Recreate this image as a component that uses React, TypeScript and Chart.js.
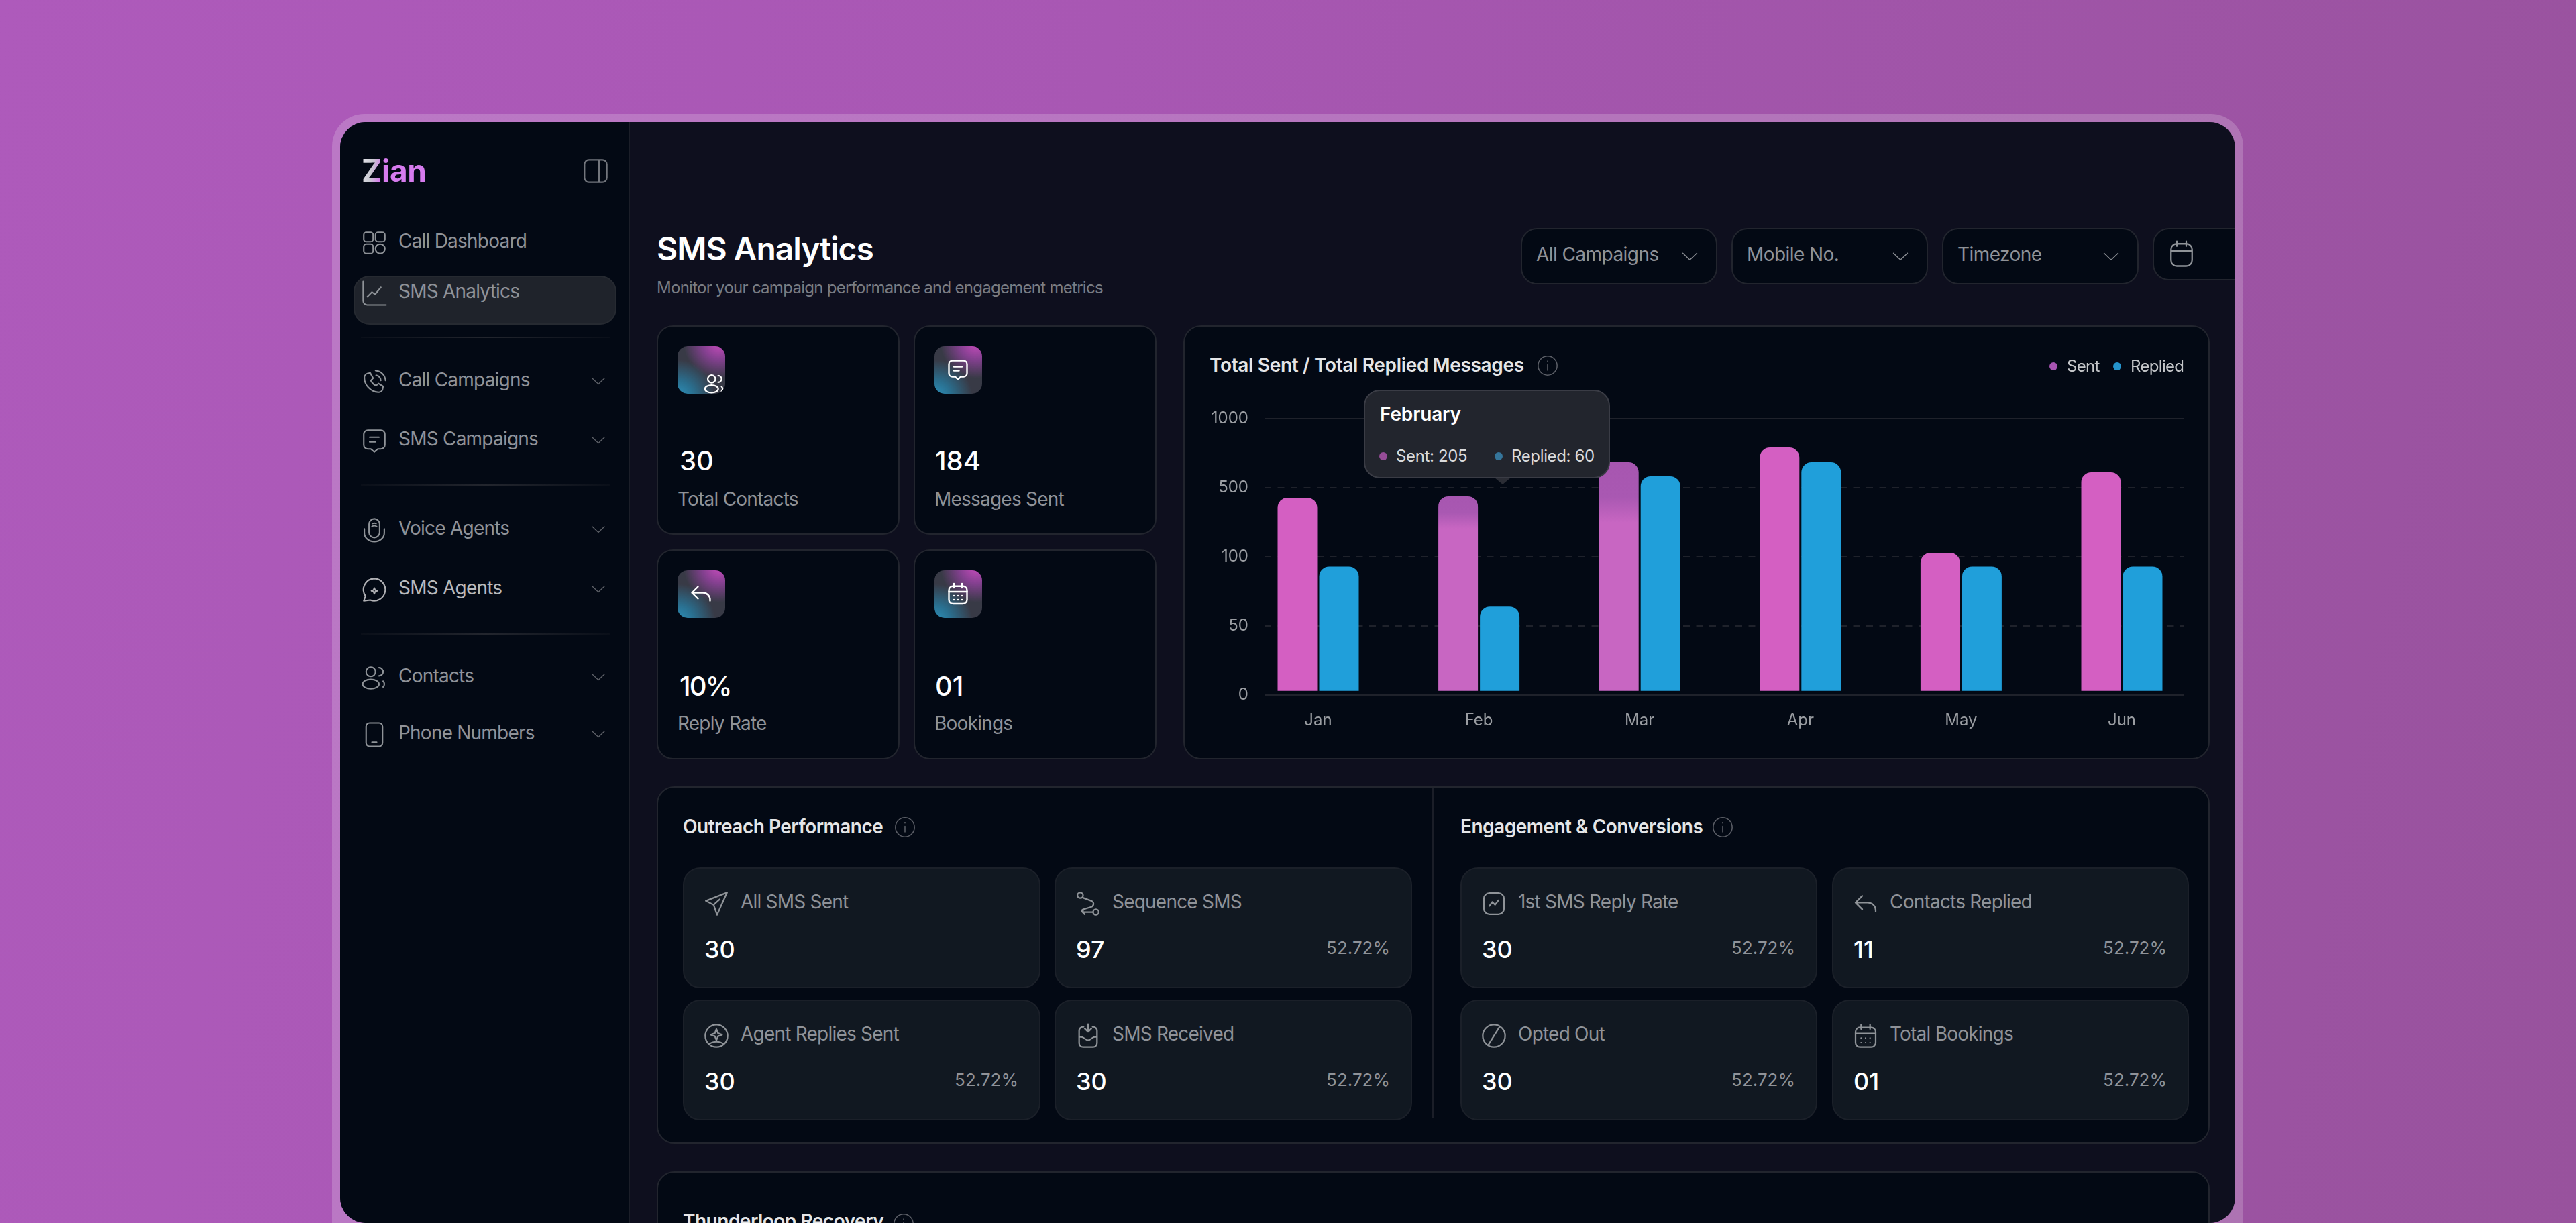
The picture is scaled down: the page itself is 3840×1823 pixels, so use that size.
import React, { useEffect, useRef } from "react";
import { Chart, LinearScale, registerables } from "chart.js";

// ---------- chart data ----------
const months = ["Jan", "Feb", "Mar", "Apr", "May", "Jun"];
const sentValues = [442, 450, 684, 791, 123, 612];
const repliedValues = [93, 64, 583, 684, 93, 93];
const yTickValues = [0, 50, 100, 500, 1000];
const seriesNames = ["Sent", "Replied"];
const tooltipTitle = "February";
const tooltipLines = ["Sent: 205", "Replied: 60"];

// ---------- page text ----------
const appName = "Zian";
const pageTitle = "SMS Analytics";
const pageSubtitle = "Monitor your campaign performance and engagement metrics";
const filterLabels = ["All Campaigns", "Mobile No.", "Timezone"];
const chartTitle = "Total Sent / Total Replied Messages";
const statValues = ["30", "184", "10%", "01"];
const statLabels = ["Total Contacts", "Messages Sent", "Reply Rate", "Bookings"];
const outreachTitle = "Outreach Performance";
const outreachLabels = ["All SMS Sent", "Sequence SMS", "Agent Replies Sent", "SMS Received"];
const outreachValues = ["30", "97", "30", "30"];
const outreachPercents = ["", "52.72%", "52.72%", "52.72%"];
const engagementTitle = "Engagement & Conversions";
const engagementLabels = ["1st SMS Reply Rate", "Contacts Replied", "Opted Out", "Total Bookings"];
const engagementValues = ["30", "11", "30", "01"];
const engagementPercents = ["52.72%", "52.72%", "52.72%", "52.72%"];
const recoveryTitle = "Thunderloop Recovery";

const FONT = "Inter, 'Noto Sans', sans-serif";

// Axis whose labelled ticks are evenly spaced although their values are not.
class SteppedScale extends LinearScale {
  static id = "stepped";
  static defaults = LinearScale.defaults;
  buildTicks() {
    this.min = yTickValues[0];
    this.max = yTickValues[yTickValues.length - 1];
    return yTickValues.map((value) => ({ value }));
  }
  getPixelForValue(v: number) {
    const n = yTickValues.length - 1;
    let i = 0;
    while (i < n - 1 && v > yTickValues[i + 1]) i++;
    const f = (v - yTickValues[i]) / (yTickValues[i + 1] - yTickValues[i]);
    return this.getPixelForDecimal((i + f) / n);
  }
  getValueForPixel(p: number) {
    const n = yTickValues.length - 1;
    const d = this.getDecimalForPixel(p) * n;
    const i = Math.min(n - 1, Math.max(0, Math.floor(d)));
    return yTickValues[i] + (d - i) * (yTickValues[i + 1] - yTickValues[i]);
  }
}

Chart.register(...registerables, SteppedScale);

function T({ x, y, s, w = 400, c, right, children, ls, extra }: any) {
  const st: any = {
    position: "absolute",
    top: y - 1,
    transform: "translateY(-50%)",
    fontFamily: FONT,
    fontSize: s,
    fontWeight: w,
    color: c,
    lineHeight: 1,
    whiteSpace: "nowrap",
    letterSpacing: ls ?? (w >= 600 ? "-0.018em" : "-0.028em"),
    ...extra,
  };
  if (right) st.right = 3840 - x;
  else st.left = x;
  return <div style={st}>{children}</div>;
}

function Box({ x, y, w, h, r, bg, bd, extra, children }: any) {
  return (
    <div
      style={{
        position: "absolute",
        left: x,
        top: y,
        width: w,
        height: h,
        boxSizing: "border-box",
        borderRadius: r,
        background: bg,
        border: bd ? `2px solid ${bd}` : undefined,
        ...extra,
      }}
    >
      {children}
    </div>
  );
}

const ICONS: Record<string, React.ReactNode> = {
  dash: (
    <>
      <rect x="3" y="3" width="8" height="8" rx="2.2" />
      <rect x="13" y="3" width="8" height="8" rx="2.2" />
      <rect x="3" y="13" width="8" height="8" rx="2.2" />
      <circle cx="17" cy="17" r="4" />
    </>
  ),
  chart: <path d="M2.500 2v16.500a3.500 3.500 0 0 0 3.500 3.500H22M6 15l4-4 2.600 2 5-6" />,
  phone: (
    <path d="M6 5l2.500-.5L11 9l-2 2a10 10 0 0 0 4.500 4.500l2-2 4 2.500-.5 2.600c-.3 1.400-2 2.400-3.500 2.400C8.500 20.500 3.500 14.500 3.500 8.500 3.500 7 4.600 5.300 6 5zM13 2.500A9 9 0 0 1 21.500 11M13.500 6.500A5 5 0 0 1 17.500 11" />
  ),
  chat: <path d="M6.500 3h11A3.500 3.500 0 0 1 21 6.500v9a3.500 3.500 0 0 1-3.500 3.500H15l-3 2.500L9 19H6.500A3.500 3.500 0 0 1 3 15.500v-9A3.500 3.500 0 0 1 6.500 3zM8 9h8M8 13h5" />,
  mic: <path d="M7.500 7a4.500 4.500 0 0 1 9 0v7a4.500 4.500 0 0 1-9 0zM3.500 11v3.500a8.500 7.500 0 0 0 17 0V11M10.500 6.500c1-.5 2-.5 3 0M10 9c1-1 3-1 4 0" />,
  agent: <path d="M12 2.500a9.500 9.500 0 1 1-3.500 18.400L3 21.500l1.500-4A9.500 9.500 0 0 1 12 2.500zM12 10.500l.7 1.800 1.800.7-1.800.7-.7 1.800-.7-1.800-1.800-.7 1.800-.7z" />,
  contacts: (
    <>
      <circle cx="9" cy="7" r="4" />
      <ellipse cx="9" cy="17.500" rx="7" ry="4" />
      <path d="M16 3.500a3.500 3.500 0 0 1 0 7M19.500 15a3.500 3.500 0 0 1 0 5" />
    </>
  ),
  device: <path d="M8 2h8a3 3 0 0 1 3 3v14a3 3 0 0 1-3 3H8a3 3 0 0 1-3-3V5a3 3 0 0 1 3-3zM10 18.500h4" />,
  chevron: <path d="M3 8l9 8.500L21 8" />,
  panel: <path d="M6 2h12a4 4 0 0 1 4 4v12a4 4 0 0 1-4 4H6a4 4 0 0 1-4-4V6a4 4 0 0 1 4-4zM15 2v20" />,
  info: (
    <>
      <circle cx="12" cy="12" r="10" />
      <path d="M12 11v6M12 7v.6" />
    </>
  ),
  calendar: (
    <>
      <rect x="3" y="4.500" width="18" height="17.500" rx="4" />
      <path d="M3 10h18M8 2v4M16 2v4M8 14h.01M12 14h.01M16 14h.01M8 18h.01M12 18h.01M16 18h.01" />
    </>
  ),
  calendarPlain: (
    <path d="M8 3h8a5 5 0 0 1 5 5v9a5 5 0 0 1-5 5H8a5 5 0 0 1-5-5V8a5 5 0 0 1 5-5zM3 9h18M8 1v4M16 1v4" />
  ),
  reply: <path d="M9 5l-6 6 6 6M3 11h11a7 7 0 0 1 7 7v1" />,
  send: <path d="M21.500 2L2.500 9.500l7 3.500 3 9zM9.500 13L15 8" />,
  route: (
    <>
      <circle cx="5" cy="4.500" r="2.500" />
      <circle cx="19" cy="19.500" r="2.500" />
      <path d="M7 6.500l8 3c3 1.500 2 5-.5 5.500L8 17c-2 .5-2 1.500 0 2.500h8.500M9 16.500l-2.500 2.500 2.500 2.500" />
    </>
  ),
  agentCircle: (
    <>
      <circle cx="12" cy="12" r="10" />
      <path d="M12 6l1.400 3.600L17 11l-3.600 1.400L12 16l-1.400-3.600L7 11l3.600-1.400zM5.500 19.500c3-3 10-3 13 0" />
    </>
  ),
  inbox: <path d="M12 1.500v7M9 5.500l3 3 3-3M8 4H7.500A3.500 3.500 0 0 0 4 7.500v11A3.500 3.500 0 0 0 7.500 22h9a3.500 3.500 0 0 0 3.500-3.500v-11A3.500 3.500 0 0 0 16.500 4H16M4 13h2c2 0 4 3 6 3s4-3 6-3h2" />,
  slash: (
    <>
      <circle cx="12" cy="12" r="10" />
      <path d="M17 4L7 20" />
    </>
  ),
  trend: <path d="M8 2.500h8a5 5 0 0 1 5 5v9a5 5 0 0 1-5 5H8a5 5 0 0 1-5-5v-9a5 5 0 0 1 5-5zM8 14l2.500-3.500 2.500 2.500 3-4" />,
};

function Ico({ n, x, y, s, c = "#8f9398", sw = 1.5 }: any) {
  return (
    <svg
      viewBox="0 0 24 24"
      width={s}
      height={s}
      fill="none"
      stroke={c}
      strokeWidth={sw}
      strokeLinecap="round"
      strokeLinejoin="round"
      style={{ position: "absolute", left: x, top: y, overflow: "visible" }}
    >
      {ICONS[n]}
    </svg>
  );
}

const MUTED = "#8f9298";
const CARD = "#030914";
const LINE = "#22252e";

const menu: any[] = [
  ["dash", "Call Dashboard", 360, false],
  ["chart", "SMS Analytics", 435, false],
  ["phone", "Call Campaigns", 567, true],
  ["chat", "SMS Campaigns", 655, true],
  ["mic", "Voice Agents", 788, true],
  ["agent", "SMS Agents", 877, true],
  ["contacts", "Contacts", 1008, true],
  ["device", "Phone Numbers", 1093, true],
];

function Divider({ y }: any) {
  return (
    <div
      style={{
        position: "absolute",
        left: 538,
        top: y,
        width: 372,
        height: 2,
        background: "linear-gradient(90deg,#0a0f19,#23262e 50%,#0a0f19)",
      }}
    />
  );
}

function Stat({ x, y, h, i, icon }: any) {
  return (
    <>
      <Box x={x} y={y} w={362} h={h} r={24} bg={CARD} bd={LINE} />
      <div
        style={{
          position: "absolute",
          left: x + 31,
          top: y + 31,
          width: 71,
          height: 71,
          borderRadius: 15,
          overflow: "hidden",
          background:
            "radial-gradient(circle at 88% -8%, #c94cbe 0, #83408f 26%, rgba(75,50,90,0) 54%), radial-gradient(circle at 0% 108%, #2d94bf 0, #2a6f8f 24%, rgba(50,75,95,0) 54%), #383a46",
        }}
      >
        {icon === "contacts" ? (
          <Ico n={icon} x={38} y={39} s={34} c="#fff" sw={1.6} />
        ) : (
          <Ico n={icon} x={17} y={17} s={36} c="#fff" sw={1.6} />
        )}
      </div>
      <T x={x + (i % 2 ? 32 : 34)} y={y + 203 + (i >= 2 ? 2 : 0)} s={40} w={500} c="#fff" ls={i === 2 ? "-0.045em" : 0}>
        {statValues[i]}
      </T>
      <T x={x + 31} y={y + 260} s={28} c={MUTED}>
        {statLabels[i]}
      </T>
    </>
  );
}

function Metric({ x, y, w, icon, label, value, pct }: any) {
  return (
    <>
      <Box x={x} y={y} w={w} h={180} r={26} bg="#111821" bd="#1b2029" />
      <Ico n={icon} x={x + 30} y={y + 34} s={40} sw={1.35} />
      <T x={x + 86} y={y + 52} s={28} c={MUTED}>
        {label}
      </T>
      <T x={x + 32} y={y + 123} s={36} w={500} c="#fff" ls={0}>
        {value}
      </T>
      {pct ? (
        <T x={x + w - 33} y={y + 121} s={26} c={MUTED} right ls={0}>
          {pct}
        </T>
      ) : null}
    </>
  );
}

export default function App() {
  const ref = useRef<HTMLCanvasElement>(null);

  useEffect(() => {
    const step = 239.6;
    const softenedSent = (ctx: any) => {
      const i = ctx.dataIndex;
      if (i !== 1 && i !== 2) return "#D45FC2";
      const { chart } = ctx;
      const top = chart.scales.y.getPixelForValue(sentValues[i]);
      const bottom = chart.scales.y.getPixelForValue(0);
      const g = chart.ctx.createLinearGradient(0, top, 0, bottom);
      const a = i === 1 ? 24 / (bottom - top) : 52 / (bottom - top);
      const b = i === 1 ? 48 / (bottom - top) : 90 / (bottom - top);
      g.addColorStop(0, "#A756B0");
      g.addColorStop(a, "#A958B2");
      g.addColorStop(b, "#C866C2");
      g.addColorStop(1, "#C866C2");
      return g;
    };
    const chart = new Chart(ref.current as HTMLCanvasElement, {
      type: "bar",
      data: {
        labels: months,
        datasets: [
          {
            label: seriesNames[0],
            data: sentValues.map((y, x) => ({ x, y })),
            backgroundColor: softenedSent,
            borderRadius: 15,
            base: 3,
          },
          {
            label: seriesNames[1],
            data: repliedValues.map((y, x) => ({ x, y })),
            backgroundColor: "#209FDA",
            borderRadius: 15,
            base: 3,
          },
        ],
      } as any,
      options: {
        responsive: false,
        animation: false,
        devicePixelRatio: 1,
        maintainAspectRatio: false,
        categoryPercentage: 124 / step,
        barPercentage: 59 / 62,
        layout: { padding: { left: 0, top: 139, right: 38, bottom: 0 } },
        plugins: { legend: { display: false }, tooltip: { enabled: false } },
        scales: {
          x: {
            type: "linear",
            offset: false,
            min: -80 / step,
            max: (1370 - 80) / step,
            afterBuildTicks: (axis: any) => {
              axis.ticks = months.map((_, value) => ({ value }));
            },
            afterFit: (axis: any) => {
              axis.height = 95;
            },
            grid: { display: false },
            border: { display: false },
            ticks: {
              autoSkip: false,
              maxRotation: 0,
              padding: 15,
              color: "#9a9da2",
              font: { family: "Inter", size: 24 },
              callback: (v: any) => months[v] ?? "",
            },
          },
          y: {
            type: "stepped",
            afterFit: (axis: any) => {
              axis.width = 121;
            },
            grid: { color: "#1f222b", lineWidth: 2, drawTicks: false },
            border: {
              display: false,
              dash: (ctx: any) =>
                ctx.tick && (ctx.tick.value === 0 || ctx.tick.value === 1000) ? [] : [10, 9.5],
            },
            ticks: {
              autoSkip: false,
              padding: 24,
              color: "#9a9da2",
              font: { family: "Inter", size: 24 },
              callback: (v: any) => String(v),
            },
          },
        },
      } as any,
    });
    return () => chart.destroy();
  }, []);

  const cols1 = [1018, 1572];
  const cols2 = [2177, 2731];
  const rows = [1293, 1490];

  return (
    <div
      style={{
        position: "absolute",
        left: 0,
        top: 0,
        width: 3840,
        height: 1823,
        overflow: "hidden",
        background: "linear-gradient(100deg,#AE5ABB 0%,#A857B3 40%,#98529D 100%)",
      }}
    >
      <Box x={495} y={170} w={2849} h={1720} r={48} bg="rgba(255,255,255,0.19)" />
      <div
        style={{
          position: "absolute",
          left: 0,
          top: 0,
          width: 3840,
          height: 1823,
          clipPath: "inset(182px 508px 0px 507px round 38px)",
          background: "#0E0F1E",
        }}
      >
        {/* sidebar */}
        <div style={{ position: "absolute", left: 507, top: 182, width: 432, height: 1641, background: CARD, borderRight: "2px solid #1b1e28", boxSizing: "border-box" }} />
        <T
          x={539}
          y={255}
          s={46}
          w={700}
          c="transparent"
          ls="-0.01em"
          extra={{
            background: "linear-gradient(100deg,#e6e6ec 0%,#c8c8d0 18%,#d67bee 32%,#d67bee 100%)",
            WebkitBackgroundClip: "text",
            backgroundClip: "text",
          }}
        >
          {appName}
        </T>
        <Ico n="panel" x={868} y={235} s={40} c="#73767d" sw={1.3} />
        <Box x={527} y={411} w={392} h={73} r={24} bg="#1f232b" bd="#262a31" />
        {menu.map(([icon, label, y, chev]: any) => (
          <React.Fragment key={label}>
            <Ico n={icon} x={537} y={y - 19} s={42} c={label === "SMS Agents" ? "#b0b0b4" : "#8f9398"} sw={1.2} />
            <T x={594} y={y} s={28} c={label === "SMS Agents" ? "#b8b9bc" : MUTED}>
              {label}
            </T>
            {chev ? <Ico n="chevron" x={880} y={y - 11} s={24} c="#5f6269" sw={1.3} /> : null}
          </React.Fragment>
        ))}
        <Divider y={502} />
        <Divider y={722} />
        <Divider y={944} />

        {/* header */}
        <T x={979} y={372} s={48} w={600} c="#fff" ls="-0.022em">
          {pageTitle}
        </T>
        <T x={979} y={430} s={24} c="#797c83" ls="-0.03em">
          {pageSubtitle}
        </T>
        {filterLabels.map((f, i) => {
          const x = [2267, 2581, 2895][i];
          return (
            <React.Fragment key={f}>
              <Box x={x} y={340} w={293} h={84} r={24} bg={CARD} bd={LINE} />
              <T x={x + 23} y={380} s={28} c={MUTED} ls="-0.02em">
                {f}
              </T>
              <Ico n="chevron" x={x + 238} y={368} s={28} c="#8a8d93" sw={1.2} />
            </React.Fragment>
          );
        })}
        <Box x={3209} y={340} w={200} h={78} r={24} bg={CARD} bd={LINE} />
        <Ico n="calendarPlain" x={3231} y={358} s={42} c="#8f9398" sw={1.3} />

        {/* stat cards */}
        <Stat x={979} y={485} h={312} i={0} icon="contacts" />
        <Stat x={1362} y={485} h={312} i={1} icon="chat" />
        <Stat x={979} y={819} h={313} i={2} icon="reply" />
        <Stat x={1362} y={819} h={313} i={3} icon="calendar" />

        {/* chart card */}
        <Box x={1764} y={485} w={1530} h={647} r={26} bg={CARD} bd={LINE} />
        <T x={1803} y={545} s={28} w={600} c="#e4e5e7" ls="-0.012em">
          {chartTitle}
        </T>
        <Ico n="info" x={2290} y={528} s={34} c="#5c5f67" sw={1.1} />
        <canvas
          ref={ref}
          width={1529}
          height={646}
          style={{ position: "absolute", left: 1764, top: 485, width: 1529, height: 646 }}
        />
        <div style={{ position: "absolute", left: 3055, top: 540, width: 12, height: 12, borderRadius: 6, background: "#A854B2" }} />
        <T x={3081} y={547} s={24} c="#c4c6c9">
          {seriesNames[0]}
        </T>
        <div style={{ position: "absolute", left: 3150, top: 540, width: 12, height: 12, borderRadius: 6, background: "#2594CC" }} />
        <T x={3176} y={547} s={24} c="#c4c6c9">
          {seriesNames[1]}
        </T>

        {/* tooltip */}
        <svg width="24" height="10" style={{ position: "absolute", left: 2228, top: 712 }}>
          <path d="M0 0h24L12 10z" fill="#2b2d35" />
        </svg>
        <Box x={2033} y={581} w={367} h={132} r={24} bg="#22252D" bd="#3a3c45" />
        <T x={2057} y={618} s={28} w={600} c="#fff" ls="-0.005em">
          {tooltipTitle}
        </T>
        <div style={{ position: "absolute", left: 2056, top: 674, width: 12, height: 12, borderRadius: 6, background: "#964C97" }} />
        <T x={2081} y={681} s={24} c="#d9dadc" ls="-0.015em">
          {tooltipLines[0]}
        </T>
        <div style={{ position: "absolute", left: 2228, top: 674, width: 12, height: 12, borderRadius: 6, background: "#35759A" }} />
        <T x={2253} y={681} s={24} c="#d9dadc" ls="-0.015em">
          {tooltipLines[1]}
        </T>

        {/* outreach / engagement */}
        <Box x={979} y={1172} w={2315} h={533} r={26} bg={CARD} bd={LINE} />
        <div style={{ position: "absolute", left: 2135, top: 1174, width: 2, height: 493, background: "#1b1e28" }} />
        <T x={1018} y={1233} s={28} w={600} c="#e4e5e7">
          {outreachTitle}
        </T>
        <Ico n="info" x={1332} y={1216} s={34} c="#5c5f67" sw={1.1} />
        <T x={2177} y={1233} s={28} w={600} c="#e4e5e7">
          {engagementTitle}
        </T>
        <Ico n="info" x={2551} y={1216} s={34} c="#5c5f67" sw={1.1} />
        {outreachLabels.map((label, i) => (
          <Metric
            key={label}
            x={cols1[i % 2]}
            y={rows[i >> 1]}
            w={533}
            icon={["send", "route", "agentCircle", "inbox"][i]}
            label={label}
            value={outreachValues[i]}
            pct={outreachPercents[i]}
          />
        ))}
        {engagementLabels.map((label, i) => (
          <Metric
            key={label}
            x={cols2[i % 2]}
            y={rows[i >> 1]}
            w={532}
            icon={["trend", "reply", "slash", "calendar"][i]}
            label={label}
            value={engagementValues[i]}
            pct={engagementPercents[i]}
          />
        ))}

        {/* recovery */}
        <Box x={979} y={1746} w={2315} h={200} r={26} bg={CARD} bd={LINE} />
        <T x={1018} y={1821} s={28} w={600} c="#e4e5e7">
          {recoveryTitle}
        </T>
        <Ico n="info" x={1330} y={1807} s={34} c="#5c5f67" sw={1.1} />
      </div>
    </div>
  );
}
